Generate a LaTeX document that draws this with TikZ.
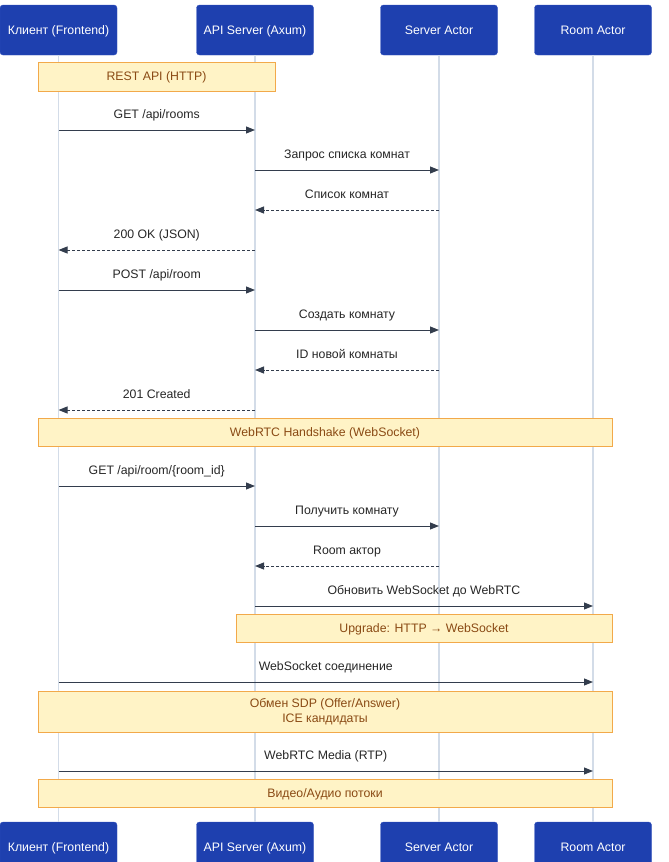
\documentclass[tikz,border=0pt]{standalone}
\usepackage{fontspec}
\setmainfont{Liberation Sans}
\usetikzlibrary{arrows.meta}
\definecolor{actorblue}{HTML}{1E40AF}
\definecolor{actoredge}{HTML}{3553BF}
\definecolor{lifegray}{HTML}{D3DCE8}
\definecolor{msgslate}{HTML}{333D4D}
\definecolor{notefill}{HTML}{FFF3C6}
\definecolor{noteedge}{HTML}{F2A94A}
\definecolor{notetext}{HTML}{8A4A14}
\tikzset{
  every node/.style={font=\fontsize{12.3}{14.5}\selectfont},
  actor/.style={rectangle, rounded corners=3pt, fill=actorblue, draw=actoredge, text=white, minimum width=117pt, minimum height=50pt, inner sep=0pt, text height=11.8pt, text depth=3pt},
  lifeline/.style={draw=lifegray, line width=1.5pt},
  msg/.style={draw=msgslate, line width=1pt, -{Triangle[length=9pt,width=7pt]}},
  reply/.style={msg, dash pattern=on 3pt off 2pt},
  note/.style={rectangle, fill=notefill, draw=noteedge, line width=1pt, text=notetext, inner sep=0pt, align=center, text height=11.8pt, text depth=3pt}
}
\newcommand{\sendmsg}[5]{\draw[#1] (#2 |- 0,#4) -- (#3 |- 0,#4) node[midway, anchor=base, yshift=12pt, text=black!85] {#5};}

\begin{document}
\begin{tikzpicture}[x=1pt, y=-1pt]
      \useasboundingbox (0,0) rectangle (669,862);

      \node[actor] (cl) at (58.5, 30) {Клиент (Frontend)};
      \node[actor] (api) at (255, 30) {API Server (Axum)};
      \node[actor] (srv) at (439, 30) {Server Actor};
      \node[actor] (room) at (593, 30) {Room Actor};

      \node[actor] (clb) at (58.5, 847) {Клиент (Frontend)};
      \node[actor] (apib) at (255, 847) {API Server (Axum)};
      \node[actor] (srvb) at (439, 847) {Server Actor};
      \node[actor] (roomb) at (593, 847) {Room Actor};

      \draw[lifeline] (cl.south) -- (clb.north);
      \draw[lifeline] (api.south) -- (apib.north);
      \draw[lifeline] (srv.south) -- (srvb.north);
      \draw[lifeline] (room.south) -- (roomb.north);

      % REST API
      \node[note, minimum width=237pt, minimum height=29pt] (rest) at (156.5, 76.5) {REST API (HTTP)};

      \sendmsg{msg}{cl}{api}{130}{GET /api/rooms}
      \sendmsg{msg}{api}{srv}{170}{Запрос списка комнат}
      \sendmsg{reply}{srv}{api}{210}{Список комнат}
      \sendmsg{reply}{api}{cl}{250}{200 OK (JSON)}
      \sendmsg{msg}{cl}{api}{290}{POST /api/room}
      \sendmsg{msg}{api}{srv}{330}{Создать комнату}
      \sendmsg{reply}{srv}{api}{370}{ID новой комнаты}
      \sendmsg{reply}{api}{cl}{410}{201 Created}

      % WebRTC
      \node[note, minimum width=574pt, minimum height=28pt] (hand) at (325, 432) {WebRTC Handshake (WebSocket)};

      \sendmsg{msg}{cl}{api}{486}{GET /api/room/\{room\_id\}}
      \sendmsg{msg}{api}{srv}{526}{Получить комнату}
      \sendmsg{reply}{srv}{api}{566}{Room актор}
      \sendmsg{msg}{api}{room}{606}{Обновить WebSocket до WebRTC}

      \node[note, minimum width=376pt, minimum height=28pt] (upg) at (424, 628) {Upgrade: HTTP → WebSocket};

      \sendmsg{msg}{cl}{room}{682}{WebSocket соединение}

      \node[note, minimum width=574pt, minimum height=41pt, text height={}, text depth={}, yshift=-1pt] (sdp) at (325, 710.5) {Обмен SDP (Offer/Answer)\\ICE кандидаты};

      \sendmsg{msg}{cl}{room}{771}{WebRTC Media (RTP)}

      \node[note, minimum width=574pt, minimum height=28pt] (media) at (325, 793) {Видео/Аудио потоки};

    \end{tikzpicture}
\end{document}
